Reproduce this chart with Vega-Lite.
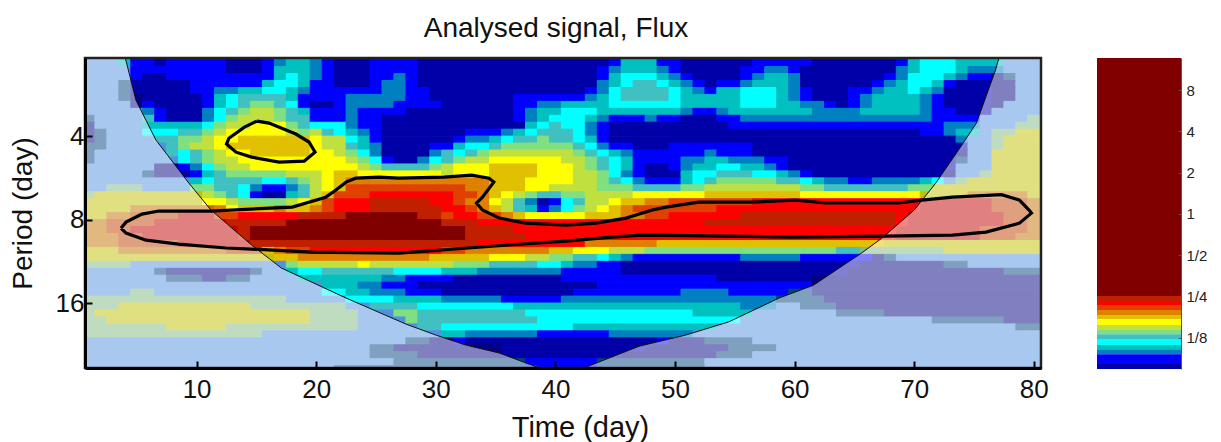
{"$schema":"https://vega.github.io/schema/vega-lite/v6.json","autosize":{"type":"pad"},"padding":{"left":9,"top":14,"right":0,"bottom":0},"background":"white","spacing":56,"bounds":"flush","config":{"view":{"stroke":null},"font":"Liberation Sans"},
"datasets":{"rows":[{"r":1,"p":2.0,"q":2.2449},{"r":2,"p":2.2449,"q":2.3784},{"r":3,"p":2.3784,"q":2.5198},{"r":4,"p":2.5198,"q":2.6697},{"r":5,"p":2.6697,"q":2.8284},{"r":6,"p":2.8284,"q":2.9966},{"r":7,"p":2.9966,"q":3.1748},{"r":8,"p":3.1748,"q":3.3636},{"r":9,"p":3.3636,"q":3.5636},{"r":10,"p":3.5636,"q":3.7755},{"r":11,"p":3.7755,"q":4},{"r":12,"p":4,"q":4.2379},{"r":13,"p":4.2379,"q":4.4898},{"r":14,"p":4.4898,"q":4.7568},{"r":15,"p":4.7568,"q":5.0397},{"r":16,"p":5.0397,"q":5.3394},{"r":17,"p":5.3394,"q":5.6569},{"r":18,"p":5.6569,"q":5.9932},{"r":19,"p":5.9932,"q":6.3496},{"r":20,"p":6.3496,"q":6.7272},{"r":21,"p":6.7272,"q":7.1272},{"r":22,"p":7.1272,"q":7.551},{"r":23,"p":7.551,"q":8},{"r":24,"p":8,"q":8.4757},{"r":25,"p":8.4757,"q":8.9797},{"r":26,"p":8.9797,"q":9.5137},{"r":27,"p":9.5137,"q":10.0794},{"r":28,"p":10.0794,"q":10.6787},{"r":29,"p":10.6787,"q":11.3137},{"r":30,"p":11.3137,"q":11.9864},{"r":31,"p":11.9864,"q":12.6992},{"r":32,"p":12.6992,"q":13.4543},{"r":33,"p":13.4543,"q":14.2544},{"r":34,"p":14.2544,"q":15.1021},{"r":35,"p":15.1021,"q":16},{"r":36,"p":16,"q":16.9514},{"r":37,"p":16.9514,"q":17.9594},{"r":38,"p":17.9594,"q":19.0273},{"r":39,"p":19.0273,"q":20.1587},{"r":40,"p":20.1587,"q":21.3574},{"r":41,"p":21.3574,"q":22.6274},{"r":42,"p":22.6274,"q":23.9729},{"r":43,"p":23.9729,"q":25.3984},{"r":44,"p":25.3984,"q":26.9087},{"r":45,"p":26.9087,"q":28.5}]},
"hconcat":[{"width":956,"height":310,"title":{"text":"Analysed signal, Flux","fontSize":28,"fontWeight":"normal","font":"Liberation Sans","color":"#111","dx":-7,"offset":14},
"layer":[
{"data":{"values":[
{"r":1,"a":0.5,"b":3.5,"c":"R"},{"r":1,"a":3.5,"b":4.5,"c":"d"},{"r":1,"a":4.5,"b":6.5,"c":"b"},{"r":1,"a":6.5,"b":7.5,"c":"a"},{"r":1,"a":7.5,"b":12.5,"c":"b"},{"r":1,"a":12.5,"b":15.5,"c":"a"},{"r":1,"a":15.5,"b":16.5,"c":"b"},{"r":1,"a":16.5,"b":17.5,"c":"c"},{"r":1,"a":17.5,"b":19.5,"c":"d"},{"r":1,"a":19.5,"b":20.5,"c":"c"},{"r":1,"a":20.5,"b":21.5,"c":"b"},{"r":1,"a":21.5,"b":24.5,"c":"a"},{"r":1,"a":24.5,"b":28.5,"c":"b"},{"r":1,"a":28.5,"b":44.5,"c":"a"},{"r":1,"a":44.5,"b":45.5,"c":"b"},{"r":1,"a":45.5,"b":48.5,"c":"d"},{"r":1,"a":48.5,"b":50.5,"c":"b"},{"r":1,"a":50.5,"b":56.5,"c":"a"},{"r":1,"a":56.5,"b":61.5,"c":"b"},{"r":1,"a":61.5,"b":68.5,"c":"a"},{"r":1,"a":68.5,"b":69.5,"c":"b"},{"r":1,"a":69.5,"b":70.5,"c":"d"},{"r":1,"a":70.5,"b":73.5,"c":"e"},{"r":1,"a":73.5,"b":77.5,"c":"d"},{"r":1,"a":77.5,"b":80.5,"c":"R"},
{"r":2,"a":0.5,"b":4.5,"c":"R"},{"r":2,"a":4.5,"b":12.5,"c":"b"},{"r":2,"a":12.5,"b":15.5,"c":"a"},{"r":2,"a":15.5,"b":16.5,"c":"b"},{"r":2,"a":16.5,"b":19.5,"c":"d"},{"r":2,"a":19.5,"b":20.5,"c":"c"},{"r":2,"a":20.5,"b":21.5,"c":"b"},{"r":2,"a":21.5,"b":24.5,"c":"a"},{"r":2,"a":24.5,"b":28.5,"c":"b"},{"r":2,"a":28.5,"b":43.5,"c":"a"},{"r":2,"a":43.5,"b":44.5,"c":"b"},{"r":2,"a":44.5,"b":45.5,"c":"c"},{"r":2,"a":45.5,"b":48.5,"c":"d"},{"r":2,"a":48.5,"b":49.5,"c":"c"},{"r":2,"a":49.5,"b":50.5,"c":"b"},{"r":2,"a":50.5,"b":55.5,"c":"a"},{"r":2,"a":55.5,"b":57.5,"c":"b"},{"r":2,"a":57.5,"b":59.5,"c":"c"},{"r":2,"a":59.5,"b":60.5,"c":"b"},{"r":2,"a":60.5,"b":68.5,"c":"a"},{"r":2,"a":68.5,"b":69.5,"c":"c"},{"r":2,"a":69.5,"b":70.5,"c":"d"},{"r":2,"a":70.5,"b":73.5,"c":"e"},{"r":2,"a":73.5,"b":74.5,"c":"d"},{"r":2,"a":74.5,"b":77.5,"c":"c"},{"r":2,"a":77.5,"b":80.5,"c":"R"},
{"r":3,"a":0.5,"b":4.5,"c":"R"},{"r":3,"a":4.5,"b":5.5,"c":"b"},{"r":3,"a":5.5,"b":7.5,"c":"a"},{"r":3,"a":7.5,"b":16.5,"c":"b"},{"r":3,"a":16.5,"b":17.5,"c":"d"},{"r":3,"a":17.5,"b":18.5,"c":"e"},{"r":3,"a":18.5,"b":19.5,"c":"d"},{"r":3,"a":19.5,"b":20.5,"c":"c"},{"r":3,"a":20.5,"b":21.5,"c":"b"},{"r":3,"a":21.5,"b":24.5,"c":"a"},{"r":3,"a":24.5,"b":26.5,"c":"b"},{"r":3,"a":26.5,"b":27.5,"c":"c"},{"r":3,"a":27.5,"b":28.5,"c":"b"},{"r":3,"a":28.5,"b":43.5,"c":"a"},{"r":3,"a":43.5,"b":44.5,"c":"b"},{"r":3,"a":44.5,"b":45.5,"c":"d"},{"r":3,"a":45.5,"b":48.5,"c":"e"},{"r":3,"a":48.5,"b":49.5,"c":"d"},{"r":3,"a":49.5,"b":50.5,"c":"c"},{"r":3,"a":50.5,"b":51.5,"c":"b"},{"r":3,"a":51.5,"b":55.5,"c":"a"},{"r":3,"a":55.5,"b":56.5,"c":"b"},{"r":3,"a":56.5,"b":57.5,"c":"c"},{"r":3,"a":57.5,"b":59.5,"c":"d"},{"r":3,"a":59.5,"b":60.5,"c":"c"},{"r":3,"a":60.5,"b":67.5,"c":"a"},{"r":3,"a":67.5,"b":68.5,"c":"b"},{"r":3,"a":68.5,"b":69.5,"c":"c"},{"r":3,"a":69.5,"b":72.5,"c":"e"},{"r":3,"a":72.5,"b":73.5,"c":"d"},{"r":3,"a":73.5,"b":74.5,"c":"c"},{"r":3,"a":74.5,"b":76.5,"c":"b"},{"r":3,"a":76.5,"b":77.5,"c":"P"},{"r":3,"a":77.5,"b":78.5,"c":"Q"},{"r":3,"a":78.5,"b":80.5,"c":"R"},
{"r":4,"a":0.5,"b":3.5,"c":"R"},{"r":4,"a":3.5,"b":4.5,"c":"Q"},{"r":4,"a":4.5,"b":9.5,"c":"a"},{"r":4,"a":9.5,"b":15.5,"c":"b"},{"r":4,"a":15.5,"b":16.5,"c":"d"},{"r":4,"a":16.5,"b":18.5,"c":"e"},{"r":4,"a":18.5,"b":19.5,"c":"d"},{"r":4,"a":19.5,"b":21.5,"c":"b"},{"r":4,"a":21.5,"b":24.5,"c":"a"},{"r":4,"a":24.5,"b":25.5,"c":"b"},{"r":4,"a":25.5,"b":27.5,"c":"c"},{"r":4,"a":27.5,"b":28.5,"c":"b"},{"r":4,"a":28.5,"b":43.5,"c":"a"},{"r":4,"a":43.5,"b":44.5,"c":"c"},{"r":4,"a":44.5,"b":45.5,"c":"d"},{"r":4,"a":45.5,"b":46.5,"c":"e"},{"r":4,"a":46.5,"b":48.5,"c":"f"},{"r":4,"a":48.5,"b":49.5,"c":"e"},{"r":4,"a":49.5,"b":50.5,"c":"d"},{"r":4,"a":50.5,"b":51.5,"c":"c"},{"r":4,"a":51.5,"b":52.5,"c":"b"},{"r":4,"a":52.5,"b":53.5,"c":"a"},{"r":4,"a":53.5,"b":55.5,"c":"b"},{"r":4,"a":55.5,"b":56.5,"c":"c"},{"r":4,"a":56.5,"b":59.5,"c":"d"},{"r":4,"a":59.5,"b":60.5,"c":"c"},{"r":4,"a":60.5,"b":66.5,"c":"a"},{"r":4,"a":66.5,"b":67.5,"c":"b"},{"r":4,"a":67.5,"b":68.5,"c":"c"},{"r":4,"a":68.5,"b":69.5,"c":"d"},{"r":4,"a":69.5,"b":71.5,"c":"e"},{"r":4,"a":71.5,"b":72.5,"c":"d"},{"r":4,"a":72.5,"b":73.5,"c":"b"},{"r":4,"a":73.5,"b":76.5,"c":"a"},{"r":4,"a":76.5,"b":78.5,"c":"P"},{"r":4,"a":78.5,"b":80.5,"c":"R"},
{"r":5,"a":0.5,"b":3.5,"c":"R"},{"r":5,"a":3.5,"b":4.5,"c":"Q"},{"r":5,"a":4.5,"b":9.5,"c":"a"},{"r":5,"a":9.5,"b":11.5,"c":"b"},{"r":5,"a":11.5,"b":13.5,"c":"c"},{"r":5,"a":13.5,"b":15.5,"c":"d"},{"r":5,"a":15.5,"b":17.5,"c":"e"},{"r":5,"a":17.5,"b":18.5,"c":"d"},{"r":5,"a":18.5,"b":19.5,"c":"c"},{"r":5,"a":19.5,"b":25.5,"c":"b"},{"r":5,"a":25.5,"b":27.5,"c":"c"},{"r":5,"a":27.5,"b":29.5,"c":"b"},{"r":5,"a":29.5,"b":42.5,"c":"a"},{"r":5,"a":42.5,"b":43.5,"c":"b"},{"r":5,"a":43.5,"b":44.5,"c":"c"},{"r":5,"a":44.5,"b":45.5,"c":"e"},{"r":5,"a":45.5,"b":49.5,"c":"f"},{"r":5,"a":49.5,"b":50.5,"c":"e"},{"r":5,"a":50.5,"b":51.5,"c":"d"},{"r":5,"a":51.5,"b":52.5,"c":"c"},{"r":5,"a":52.5,"b":53.5,"c":"b"},{"r":5,"a":53.5,"b":55.5,"c":"d"},{"r":5,"a":55.5,"b":58.5,"c":"e"},{"r":5,"a":58.5,"b":59.5,"c":"d"},{"r":5,"a":59.5,"b":60.5,"c":"c"},{"r":5,"a":60.5,"b":61.5,"c":"b"},{"r":5,"a":61.5,"b":64.5,"c":"a"},{"r":5,"a":64.5,"b":66.5,"c":"b"},{"r":5,"a":66.5,"b":67.5,"c":"c"},{"r":5,"a":67.5,"b":69.5,"c":"d"},{"r":5,"a":69.5,"b":70.5,"c":"e"},{"r":5,"a":70.5,"b":71.5,"c":"d"},{"r":5,"a":71.5,"b":72.5,"c":"c"},{"r":5,"a":72.5,"b":76.5,"c":"a"},{"r":5,"a":76.5,"b":78.5,"c":"P"},{"r":5,"a":78.5,"b":80.5,"c":"R"},
{"r":6,"a":0.5,"b":3.5,"c":"R"},{"r":6,"a":3.5,"b":4.5,"c":"Q"},{"r":6,"a":4.5,"b":5.5,"c":"P"},{"r":6,"a":5.5,"b":10.5,"c":"a"},{"r":6,"a":10.5,"b":11.5,"c":"b"},{"r":6,"a":11.5,"b":12.5,"c":"d"},{"r":6,"a":12.5,"b":13.5,"c":"e"},{"r":6,"a":13.5,"b":17.5,"c":"f"},{"r":6,"a":17.5,"b":18.5,"c":"d"},{"r":6,"a":18.5,"b":22.5,"c":"b"},{"r":6,"a":22.5,"b":27.5,"c":"c"},{"r":6,"a":27.5,"b":29.5,"c":"b"},{"r":6,"a":29.5,"b":36.5,"c":"a"},{"r":6,"a":36.5,"b":42.5,"c":"b"},{"r":6,"a":42.5,"b":43.5,"c":"c"},{"r":6,"a":43.5,"b":44.5,"c":"d"},{"r":6,"a":44.5,"b":45.5,"c":"e"},{"r":6,"a":45.5,"b":49.5,"c":"f"},{"r":6,"a":49.5,"b":50.5,"c":"e"},{"r":6,"a":50.5,"b":55.5,"c":"d"},{"r":6,"a":55.5,"b":58.5,"c":"e"},{"r":6,"a":58.5,"b":59.5,"c":"d"},{"r":6,"a":59.5,"b":60.5,"c":"c"},{"r":6,"a":60.5,"b":61.5,"c":"b"},{"r":6,"a":61.5,"b":64.5,"c":"a"},{"r":6,"a":64.5,"b":65.5,"c":"b"},{"r":6,"a":65.5,"b":66.5,"c":"c"},{"r":6,"a":66.5,"b":70.5,"c":"d"},{"r":6,"a":70.5,"b":71.5,"c":"c"},{"r":6,"a":71.5,"b":72.5,"c":"b"},{"r":6,"a":72.5,"b":76.5,"c":"a"},{"r":6,"a":76.5,"b":78.5,"c":"P"},{"r":6,"a":78.5,"b":80.5,"c":"R"},
{"r":7,"a":0.5,"b":4.5,"c":"R"},{"r":7,"a":4.5,"b":5.5,"c":"P"},{"r":7,"a":5.5,"b":6.5,"c":"b"},{"r":7,"a":6.5,"b":10.5,"c":"a"},{"r":7,"a":10.5,"b":11.5,"c":"b"},{"r":7,"a":11.5,"b":12.5,"c":"d"},{"r":7,"a":12.5,"b":13.5,"c":"e"},{"r":7,"a":13.5,"b":14.5,"c":"f"},{"r":7,"a":14.5,"b":16.5,"c":"g"},{"r":7,"a":16.5,"b":17.5,"c":"f"},{"r":7,"a":17.5,"b":18.5,"c":"e"},{"r":7,"a":18.5,"b":19.5,"c":"b"},{"r":7,"a":19.5,"b":21.5,"c":"a"},{"r":7,"a":21.5,"b":22.5,"c":"b"},{"r":7,"a":22.5,"b":26.5,"c":"c"},{"r":7,"a":26.5,"b":30.5,"c":"b"},{"r":7,"a":30.5,"b":36.5,"c":"a"},{"r":7,"a":36.5,"b":38.5,"c":"b"},{"r":7,"a":38.5,"b":40.5,"c":"c"},{"r":7,"a":40.5,"b":44.5,"c":"d"},{"r":7,"a":44.5,"b":50.5,"c":"e"},{"r":7,"a":50.5,"b":55.5,"c":"d"},{"r":7,"a":55.5,"b":58.5,"c":"e"},{"r":7,"a":58.5,"b":60.5,"c":"d"},{"r":7,"a":60.5,"b":62.5,"c":"c"},{"r":7,"a":62.5,"b":63.5,"c":"b"},{"r":7,"a":63.5,"b":64.5,"c":"a"},{"r":7,"a":64.5,"b":65.5,"c":"b"},{"r":7,"a":65.5,"b":66.5,"c":"c"},{"r":7,"a":66.5,"b":70.5,"c":"d"},{"r":7,"a":70.5,"b":71.5,"c":"c"},{"r":7,"a":71.5,"b":72.5,"c":"b"},{"r":7,"a":72.5,"b":76.5,"c":"a"},{"r":7,"a":76.5,"b":77.5,"c":"P"},{"r":7,"a":77.5,"b":80.5,"c":"R"},
{"r":8,"a":0.5,"b":5.5,"c":"R"},{"r":8,"a":5.5,"b":6.5,"c":"c"},{"r":8,"a":6.5,"b":7.5,"c":"b"},{"r":8,"a":7.5,"b":10.5,"c":"a"},{"r":8,"a":10.5,"b":11.5,"c":"c"},{"r":8,"a":11.5,"b":12.5,"c":"e"},{"r":8,"a":12.5,"b":13.5,"c":"f"},{"r":8,"a":13.5,"b":14.5,"c":"g"},{"r":8,"a":14.5,"b":16.5,"c":"h"},{"r":8,"a":16.5,"b":17.5,"c":"g"},{"r":8,"a":17.5,"b":18.5,"c":"f"},{"r":8,"a":18.5,"b":19.5,"c":"d"},{"r":8,"a":19.5,"b":22.5,"c":"b"},{"r":8,"a":22.5,"b":23.5,"c":"c"},{"r":8,"a":23.5,"b":27.5,"c":"b"},{"r":8,"a":27.5,"b":36.5,"c":"a"},{"r":8,"a":36.5,"b":37.5,"c":"b"},{"r":8,"a":37.5,"b":38.5,"c":"c"},{"r":8,"a":38.5,"b":40.5,"c":"d"},{"r":8,"a":40.5,"b":43.5,"c":"e"},{"r":8,"a":43.5,"b":50.5,"c":"d"},{"r":8,"a":50.5,"b":51.5,"c":"c"},{"r":8,"a":51.5,"b":53.5,"c":"b"},{"r":8,"a":53.5,"b":54.5,"c":"c"},{"r":8,"a":54.5,"b":61.5,"c":"d"},{"r":8,"a":61.5,"b":65.5,"c":"c"},{"r":8,"a":65.5,"b":70.5,"c":"d"},{"r":8,"a":70.5,"b":71.5,"c":"c"},{"r":8,"a":71.5,"b":73.5,"c":"b"},{"r":8,"a":73.5,"b":76.5,"c":"a"},{"r":8,"a":76.5,"b":80.5,"c":"R"},
{"r":9,"a":0.5,"b":1.5,"c":"Q"},{"r":9,"a":1.5,"b":5.5,"c":"R"},{"r":9,"a":5.5,"b":6.5,"c":"f"},{"r":9,"a":6.5,"b":7.5,"c":"b"},{"r":9,"a":7.5,"b":10.5,"c":"a"},{"r":9,"a":10.5,"b":11.5,"c":"c"},{"r":9,"a":11.5,"b":12.5,"c":"e"},{"r":9,"a":12.5,"b":13.5,"c":"g"},{"r":9,"a":13.5,"b":16.5,"c":"h"},{"r":9,"a":16.5,"b":17.5,"c":"g"},{"r":9,"a":17.5,"b":19.5,"c":"f"},{"r":9,"a":19.5,"b":22.5,"c":"b"},{"r":9,"a":22.5,"b":23.5,"c":"c"},{"r":9,"a":23.5,"b":25.5,"c":"b"},{"r":9,"a":25.5,"b":36.5,"c":"a"},{"r":9,"a":36.5,"b":37.5,"c":"b"},{"r":9,"a":37.5,"b":38.5,"c":"c"},{"r":9,"a":38.5,"b":39.5,"c":"d"},{"r":9,"a":39.5,"b":42.5,"c":"e"},{"r":9,"a":42.5,"b":43.5,"c":"d"},{"r":9,"a":43.5,"b":44.5,"c":"c"},{"r":9,"a":44.5,"b":47.5,"c":"b"},{"r":9,"a":47.5,"b":48.5,"c":"c"},{"r":9,"a":48.5,"b":50.5,"c":"b"},{"r":9,"a":50.5,"b":53.5,"c":"a"},{"r":9,"a":53.5,"b":55.5,"c":"b"},{"r":9,"a":55.5,"b":71.5,"c":"c"},{"r":9,"a":71.5,"b":75.5,"c":"b"},{"r":9,"a":75.5,"b":79.5,"c":"R"},{"r":9,"a":79.5,"b":80.5,"c":"S"},
{"r":10,"a":0.5,"b":1.5,"c":"P"},{"r":10,"a":1.5,"b":5.5,"c":"R"},{"r":10,"a":5.5,"b":10.5,"c":"d"},{"r":10,"a":10.5,"b":11.5,"c":"e"},{"r":10,"a":11.5,"b":12.5,"c":"g"},{"r":10,"a":12.5,"b":14.5,"c":"h"},{"r":10,"a":14.5,"b":17.5,"c":"i"},{"r":10,"a":17.5,"b":18.5,"c":"g"},{"r":10,"a":18.5,"b":19.5,"c":"f"},{"r":10,"a":19.5,"b":22.5,"c":"e"},{"r":10,"a":22.5,"b":23.5,"c":"c"},{"r":10,"a":23.5,"b":25.5,"c":"b"},{"r":10,"a":25.5,"b":37.5,"c":"a"},{"r":10,"a":37.5,"b":38.5,"c":"d"},{"r":10,"a":38.5,"b":39.5,"c":"e"},{"r":10,"a":39.5,"b":40.5,"c":"f"},{"r":10,"a":40.5,"b":42.5,"c":"e"},{"r":10,"a":42.5,"b":43.5,"c":"c"},{"r":10,"a":43.5,"b":44.5,"c":"b"},{"r":10,"a":44.5,"b":54.5,"c":"a"},{"r":10,"a":54.5,"b":72.5,"c":"b"},{"r":10,"a":72.5,"b":75.5,"c":"c"},{"r":10,"a":75.5,"b":78.5,"c":"R"},{"r":10,"a":78.5,"b":80.5,"c":"S"},
{"r":11,"a":0.5,"b":1.5,"c":"P"},{"r":11,"a":1.5,"b":2.5,"c":"Q"},{"r":11,"a":2.5,"b":5.5,"c":"R"},{"r":11,"a":5.5,"b":8.5,"c":"e"},{"r":11,"a":8.5,"b":10.5,"c":"f"},{"r":11,"a":10.5,"b":11.5,"c":"g"},{"r":11,"a":11.5,"b":12.5,"c":"h"},{"r":11,"a":12.5,"b":17.5,"c":"i"},{"r":11,"a":17.5,"b":18.5,"c":"h"},{"r":11,"a":18.5,"b":19.5,"c":"g"},{"r":11,"a":19.5,"b":20.5,"c":"h"},{"r":11,"a":20.5,"b":21.5,"c":"f"},{"r":11,"a":21.5,"b":22.5,"c":"e"},{"r":11,"a":22.5,"b":23.5,"c":"d"},{"r":11,"a":23.5,"b":24.5,"c":"c"},{"r":11,"a":24.5,"b":25.5,"c":"b"},{"r":11,"a":25.5,"b":32.5,"c":"a"},{"r":11,"a":32.5,"b":35.5,"c":"b"},{"r":11,"a":35.5,"b":36.5,"c":"c"},{"r":11,"a":36.5,"b":37.5,"c":"d"},{"r":11,"a":37.5,"b":38.5,"c":"e"},{"r":11,"a":38.5,"b":41.5,"c":"f"},{"r":11,"a":41.5,"b":42.5,"c":"e"},{"r":11,"a":42.5,"b":43.5,"c":"c"},{"r":11,"a":43.5,"b":44.5,"c":"b"},{"r":11,"a":44.5,"b":70.5,"c":"a"},{"r":11,"a":70.5,"b":72.5,"c":"b"},{"r":11,"a":72.5,"b":73.5,"c":"c"},{"r":11,"a":73.5,"b":75.5,"c":"d"},{"r":11,"a":75.5,"b":76.5,"c":"R"},{"r":11,"a":76.5,"b":78.5,"c":"S"},{"r":11,"a":78.5,"b":80.5,"c":"T"},
{"r":12,"a":0.5,"b":1.5,"c":"P"},{"r":12,"a":1.5,"b":2.5,"c":"Q"},{"r":12,"a":2.5,"b":6.5,"c":"R"},{"r":12,"a":6.5,"b":8.5,"c":"f"},{"r":12,"a":8.5,"b":10.5,"c":"g"},{"r":12,"a":10.5,"b":11.5,"c":"h"},{"r":12,"a":11.5,"b":13.5,"c":"i"},{"r":12,"a":13.5,"b":19.5,"c":"j"},{"r":12,"a":19.5,"b":20.5,"c":"i"},{"r":12,"a":20.5,"b":22.5,"c":"h"},{"r":12,"a":22.5,"b":23.5,"c":"e"},{"r":12,"a":23.5,"b":24.5,"c":"d"},{"r":12,"a":24.5,"b":25.5,"c":"b"},{"r":12,"a":25.5,"b":31.5,"c":"a"},{"r":12,"a":31.5,"b":32.5,"c":"b"},{"r":12,"a":32.5,"b":34.5,"c":"c"},{"r":12,"a":34.5,"b":35.5,"c":"d"},{"r":12,"a":35.5,"b":36.5,"c":"e"},{"r":12,"a":36.5,"b":38.5,"c":"f"},{"r":12,"a":38.5,"b":39.5,"c":"g"},{"r":12,"a":39.5,"b":41.5,"c":"f"},{"r":12,"a":41.5,"b":42.5,"c":"e"},{"r":12,"a":42.5,"b":43.5,"c":"d"},{"r":12,"a":43.5,"b":44.5,"c":"b"},{"r":12,"a":44.5,"b":73.5,"c":"a"},{"r":12,"a":73.5,"b":74.5,"c":"c"},{"r":12,"a":74.5,"b":76.5,"c":"R"},{"r":12,"a":76.5,"b":77.5,"c":"S"},{"r":12,"a":77.5,"b":80.5,"c":"T"},
{"r":13,"a":0.5,"b":2.5,"c":"Q"},{"r":13,"a":2.5,"b":7.5,"c":"R"},{"r":13,"a":7.5,"b":8.5,"c":"f"},{"r":13,"a":8.5,"b":9.5,"c":"g"},{"r":13,"a":9.5,"b":11.5,"c":"h"},{"r":13,"a":11.5,"b":12.5,"c":"i"},{"r":13,"a":12.5,"b":19.5,"c":"j"},{"r":13,"a":19.5,"b":20.5,"c":"i"},{"r":13,"a":20.5,"b":22.5,"c":"h"},{"r":13,"a":22.5,"b":23.5,"c":"f"},{"r":13,"a":23.5,"b":24.5,"c":"d"},{"r":13,"a":24.5,"b":25.5,"c":"c"},{"r":13,"a":25.5,"b":29.5,"c":"a"},{"r":13,"a":29.5,"b":31.5,"c":"b"},{"r":13,"a":31.5,"b":32.5,"c":"d"},{"r":13,"a":32.5,"b":34.5,"c":"e"},{"r":13,"a":34.5,"b":35.5,"c":"f"},{"r":13,"a":35.5,"b":41.5,"c":"g"},{"r":13,"a":41.5,"b":42.5,"c":"f"},{"r":13,"a":42.5,"b":43.5,"c":"e"},{"r":13,"a":43.5,"b":44.5,"c":"c"},{"r":13,"a":44.5,"b":46.5,"c":"b"},{"r":13,"a":46.5,"b":49.5,"c":"a"},{"r":13,"a":49.5,"b":56.5,"c":"b"},{"r":13,"a":56.5,"b":74.5,"c":"a"},{"r":13,"a":74.5,"b":76.5,"c":"R"},{"r":13,"a":76.5,"b":77.5,"c":"S"},{"r":13,"a":77.5,"b":80.5,"c":"T"},
{"r":14,"a":0.5,"b":1.5,"c":"Q"},{"r":14,"a":1.5,"b":7.5,"c":"R"},{"r":14,"a":7.5,"b":8.5,"c":"f"},{"r":14,"a":8.5,"b":9.5,"c":"e"},{"r":14,"a":9.5,"b":10.5,"c":"f"},{"r":14,"a":10.5,"b":11.5,"c":"g"},{"r":14,"a":11.5,"b":12.5,"c":"h"},{"r":14,"a":12.5,"b":14.5,"c":"i"},{"r":14,"a":14.5,"b":19.5,"c":"j"},{"r":14,"a":19.5,"b":21.5,"c":"i"},{"r":14,"a":21.5,"b":22.5,"c":"h"},{"r":14,"a":22.5,"b":23.5,"c":"g"},{"r":14,"a":23.5,"b":24.5,"c":"e"},{"r":14,"a":24.5,"b":25.5,"c":"c"},{"r":14,"a":25.5,"b":29.5,"c":"a"},{"r":14,"a":29.5,"b":30.5,"c":"c"},{"r":14,"a":30.5,"b":31.5,"c":"f"},{"r":14,"a":31.5,"b":32.5,"c":"e"},{"r":14,"a":32.5,"b":33.5,"c":"f"},{"r":14,"a":33.5,"b":34.5,"c":"g"},{"r":14,"a":34.5,"b":41.5,"c":"h"},{"r":14,"a":41.5,"b":42.5,"c":"g"},{"r":14,"a":42.5,"b":43.5,"c":"f"},{"r":14,"a":43.5,"b":44.5,"c":"e"},{"r":14,"a":44.5,"b":45.5,"c":"d"},{"r":14,"a":45.5,"b":46.5,"c":"c"},{"r":14,"a":46.5,"b":52.5,"c":"b"},{"r":14,"a":52.5,"b":53.5,"c":"c"},{"r":14,"a":53.5,"b":56.5,"c":"b"},{"r":14,"a":56.5,"b":73.5,"c":"a"},{"r":14,"a":73.5,"b":74.5,"c":"P"},{"r":14,"a":74.5,"b":76.5,"c":"R"},{"r":14,"a":76.5,"b":80.5,"c":"T"},
{"r":15,"a":0.5,"b":1.5,"c":"Q"},{"r":15,"a":1.5,"b":8.5,"c":"R"},{"r":15,"a":8.5,"b":9.5,"c":"e"},{"r":15,"a":9.5,"b":10.5,"c":"f"},{"r":15,"a":10.5,"b":11.5,"c":"g"},{"r":15,"a":11.5,"b":13.5,"c":"h"},{"r":15,"a":13.5,"b":22.5,"c":"i"},{"r":15,"a":22.5,"b":23.5,"c":"h"},{"r":15,"a":23.5,"b":24.5,"c":"g"},{"r":15,"a":24.5,"b":25.5,"c":"e"},{"r":15,"a":25.5,"b":26.5,"c":"b"},{"r":15,"a":26.5,"b":28.5,"c":"a"},{"r":15,"a":28.5,"b":29.5,"c":"c"},{"r":15,"a":29.5,"b":30.5,"c":"e"},{"r":15,"a":30.5,"b":31.5,"c":"f"},{"r":15,"a":31.5,"b":32.5,"c":"g"},{"r":15,"a":32.5,"b":34.5,"c":"h"},{"r":15,"a":34.5,"b":40.5,"c":"i"},{"r":15,"a":40.5,"b":42.5,"c":"h"},{"r":15,"a":42.5,"b":43.5,"c":"g"},{"r":15,"a":43.5,"b":44.5,"c":"f"},{"r":15,"a":44.5,"b":45.5,"c":"e"},{"r":15,"a":45.5,"b":46.5,"c":"d"},{"r":15,"a":46.5,"b":50.5,"c":"b"},{"r":15,"a":50.5,"b":52.5,"c":"c"},{"r":15,"a":52.5,"b":54.5,"c":"d"},{"r":15,"a":54.5,"b":57.5,"c":"c"},{"r":15,"a":57.5,"b":59.5,"c":"b"},{"r":15,"a":59.5,"b":73.5,"c":"a"},{"r":15,"a":73.5,"b":74.5,"c":"Q"},{"r":15,"a":74.5,"b":76.5,"c":"R"},{"r":15,"a":76.5,"b":80.5,"c":"T"},
{"r":16,"a":0.5,"b":6.5,"c":"R"},{"r":16,"a":6.5,"b":8.5,"c":"P"},{"r":16,"a":8.5,"b":9.5,"c":"b"},{"r":16,"a":9.5,"b":10.5,"c":"c"},{"r":16,"a":10.5,"b":11.5,"c":"e"},{"r":16,"a":11.5,"b":12.5,"c":"g"},{"r":16,"a":12.5,"b":14.5,"c":"h"},{"r":16,"a":14.5,"b":23.5,"c":"i"},{"r":16,"a":23.5,"b":24.5,"c":"h"},{"r":16,"a":24.5,"b":25.5,"c":"g"},{"r":16,"a":25.5,"b":29.5,"c":"f"},{"r":16,"a":29.5,"b":30.5,"c":"g"},{"r":16,"a":30.5,"b":31.5,"c":"h"},{"r":16,"a":31.5,"b":34.5,"c":"i"},{"r":16,"a":34.5,"b":38.5,"c":"j"},{"r":16,"a":38.5,"b":41.5,"c":"i"},{"r":16,"a":41.5,"b":42.5,"c":"h"},{"r":16,"a":42.5,"b":43.5,"c":"g"},{"r":16,"a":43.5,"b":44.5,"c":"f"},{"r":16,"a":44.5,"b":45.5,"c":"e"},{"r":16,"a":45.5,"b":46.5,"c":"d"},{"r":16,"a":46.5,"b":47.5,"c":"b"},{"r":16,"a":47.5,"b":49.5,"c":"a"},{"r":16,"a":49.5,"b":50.5,"c":"b"},{"r":16,"a":50.5,"b":51.5,"c":"c"},{"r":16,"a":51.5,"b":53.5,"c":"d"},{"r":16,"a":53.5,"b":55.5,"c":"e"},{"r":16,"a":55.5,"b":57.5,"c":"d"},{"r":16,"a":57.5,"b":58.5,"c":"c"},{"r":16,"a":58.5,"b":59.5,"c":"b"},{"r":16,"a":59.5,"b":73.5,"c":"a"},{"r":16,"a":73.5,"b":76.5,"c":"R"},{"r":16,"a":76.5,"b":80.5,"c":"T"},
{"r":17,"a":0.5,"b":5.5,"c":"R"},{"r":17,"a":5.5,"b":6.5,"c":"Q"},{"r":17,"a":6.5,"b":8.5,"c":"P"},{"r":17,"a":8.5,"b":9.5,"c":"a"},{"r":17,"a":9.5,"b":10.5,"c":"b"},{"r":17,"a":10.5,"b":11.5,"c":"d"},{"r":17,"a":11.5,"b":12.5,"c":"f"},{"r":17,"a":12.5,"b":17.5,"c":"g"},{"r":17,"a":17.5,"b":20.5,"c":"h"},{"r":17,"a":20.5,"b":21.5,"c":"i"},{"r":17,"a":21.5,"b":23.5,"c":"j"},{"r":17,"a":23.5,"b":30.5,"c":"i"},{"r":17,"a":30.5,"b":31.5,"c":"h"},{"r":17,"a":31.5,"b":34.5,"c":"i"},{"r":17,"a":34.5,"b":38.5,"c":"j"},{"r":17,"a":38.5,"b":41.5,"c":"i"},{"r":17,"a":41.5,"b":43.5,"c":"h"},{"r":17,"a":43.5,"b":44.5,"c":"g"},{"r":17,"a":44.5,"b":45.5,"c":"e"},{"r":17,"a":45.5,"b":46.5,"c":"c"},{"r":17,"a":46.5,"b":47.5,"c":"b"},{"r":17,"a":47.5,"b":50.5,"c":"a"},{"r":17,"a":50.5,"b":51.5,"c":"d"},{"r":17,"a":51.5,"b":53.5,"c":"e"},{"r":17,"a":53.5,"b":56.5,"c":"f"},{"r":17,"a":56.5,"b":58.5,"c":"e"},{"r":17,"a":58.5,"b":59.5,"c":"d"},{"r":17,"a":59.5,"b":60.5,"c":"c"},{"r":17,"a":60.5,"b":61.5,"c":"b"},{"r":17,"a":61.5,"b":72.5,"c":"a"},{"r":17,"a":72.5,"b":73.5,"c":"P"},{"r":17,"a":73.5,"b":75.5,"c":"R"},{"r":17,"a":75.5,"b":76.5,"c":"S"},{"r":17,"a":76.5,"b":80.5,"c":"T"},
{"r":18,"a":0.5,"b":9.5,"c":"R"},{"r":18,"a":9.5,"b":10.5,"c":"d"},{"r":18,"a":10.5,"b":11.5,"c":"e"},{"r":18,"a":11.5,"b":15.5,"c":"f"},{"r":18,"a":15.5,"b":17.5,"c":"e"},{"r":18,"a":17.5,"b":18.5,"c":"f"},{"r":18,"a":18.5,"b":19.5,"c":"g"},{"r":18,"a":19.5,"b":20.5,"c":"h"},{"r":18,"a":20.5,"b":21.5,"c":"i"},{"r":18,"a":21.5,"b":22.5,"c":"j"},{"r":18,"a":22.5,"b":34.5,"c":"k"},{"r":18,"a":34.5,"b":37.5,"c":"j"},{"r":18,"a":37.5,"b":41.5,"c":"i"},{"r":18,"a":41.5,"b":43.5,"c":"h"},{"r":18,"a":43.5,"b":44.5,"c":"g"},{"r":18,"a":44.5,"b":45.5,"c":"f"},{"r":18,"a":45.5,"b":46.5,"c":"e"},{"r":18,"a":46.5,"b":47.5,"c":"c"},{"r":18,"a":47.5,"b":50.5,"c":"b"},{"r":18,"a":50.5,"b":51.5,"c":"d"},{"r":18,"a":51.5,"b":52.5,"c":"e"},{"r":18,"a":52.5,"b":53.5,"c":"f"},{"r":18,"a":53.5,"b":58.5,"c":"g"},{"r":18,"a":58.5,"b":60.5,"c":"f"},{"r":18,"a":60.5,"b":61.5,"c":"e"},{"r":18,"a":61.5,"b":62.5,"c":"d"},{"r":18,"a":62.5,"b":64.5,"c":"c"},{"r":18,"a":64.5,"b":66.5,"c":"b"},{"r":18,"a":66.5,"b":70.5,"c":"c"},{"r":18,"a":70.5,"b":71.5,"c":"d"},{"r":18,"a":71.5,"b":72.5,"c":"e"},{"r":18,"a":72.5,"b":73.5,"c":"R"},{"r":18,"a":73.5,"b":74.5,"c":"S"},{"r":18,"a":74.5,"b":80.5,"c":"T"},
{"r":19,"a":0.5,"b":2.5,"c":"R"},{"r":19,"a":2.5,"b":5.5,"c":"S"},{"r":19,"a":5.5,"b":9.5,"c":"R"},{"r":19,"a":9.5,"b":11.5,"c":"g"},{"r":19,"a":11.5,"b":13.5,"c":"f"},{"r":19,"a":13.5,"b":14.5,"c":"e"},{"r":19,"a":14.5,"b":15.5,"c":"c"},{"r":19,"a":15.5,"b":17.5,"c":"b"},{"r":19,"a":17.5,"b":18.5,"c":"c"},{"r":19,"a":18.5,"b":19.5,"c":"f"},{"r":19,"a":19.5,"b":20.5,"c":"h"},{"r":19,"a":20.5,"b":21.5,"c":"i"},{"r":19,"a":21.5,"b":22.5,"c":"j"},{"r":19,"a":22.5,"b":32.5,"c":"l"},{"r":19,"a":32.5,"b":34.5,"c":"k"},{"r":19,"a":34.5,"b":37.5,"c":"j"},{"r":19,"a":37.5,"b":39.5,"c":"i"},{"r":19,"a":39.5,"b":43.5,"c":"h"},{"r":19,"a":43.5,"b":46.5,"c":"g"},{"r":19,"a":46.5,"b":50.5,"c":"f"},{"r":19,"a":50.5,"b":52.5,"c":"g"},{"r":19,"a":52.5,"b":60.5,"c":"h"},{"r":19,"a":60.5,"b":62.5,"c":"g"},{"r":19,"a":62.5,"b":69.5,"c":"f"},{"r":19,"a":69.5,"b":71.5,"c":"g"},{"r":19,"a":71.5,"b":80.5,"c":"T"},
{"r":20,"a":0.5,"b":1.5,"c":"S"},{"r":20,"a":1.5,"b":10.5,"c":"T"},{"r":20,"a":10.5,"b":11.5,"c":"h"},{"r":20,"a":11.5,"b":12.5,"c":"g"},{"r":20,"a":12.5,"b":13.5,"c":"f"},{"r":20,"a":13.5,"b":14.5,"c":"e"},{"r":20,"a":14.5,"b":15.5,"c":"b"},{"r":20,"a":15.5,"b":17.5,"c":"a"},{"r":20,"a":17.5,"b":18.5,"c":"d"},{"r":20,"a":18.5,"b":19.5,"c":"f"},{"r":20,"a":19.5,"b":20.5,"c":"h"},{"r":20,"a":20.5,"b":21.5,"c":"j"},{"r":20,"a":21.5,"b":24.5,"c":"l"},{"r":20,"a":24.5,"b":31.5,"c":"m"},{"r":20,"a":31.5,"b":33.5,"c":"l"},{"r":20,"a":33.5,"b":34.5,"c":"k"},{"r":20,"a":34.5,"b":35.5,"c":"j"},{"r":20,"a":35.5,"b":36.5,"c":"i"},{"r":20,"a":36.5,"b":37.5,"c":"h"},{"r":20,"a":37.5,"b":38.5,"c":"g"},{"r":20,"a":38.5,"b":40.5,"c":"f"},{"r":20,"a":40.5,"b":42.5,"c":"g"},{"r":20,"a":42.5,"b":46.5,"c":"h"},{"r":20,"a":46.5,"b":52.5,"c":"i"},{"r":20,"a":52.5,"b":60.5,"c":"j"},{"r":20,"a":60.5,"b":70.5,"c":"i"},{"r":20,"a":70.5,"b":74.5,"c":"T"},{"r":20,"a":74.5,"b":79.5,"c":"U"},{"r":20,"a":79.5,"b":80.5,"c":"T"},
{"r":21,"a":0.5,"b":10.5,"c":"T"},{"r":21,"a":10.5,"b":12.5,"c":"i"},{"r":21,"a":12.5,"b":13.5,"c":"h"},{"r":21,"a":13.5,"b":17.5,"c":"g"},{"r":21,"a":17.5,"b":18.5,"c":"h"},{"r":21,"a":18.5,"b":19.5,"c":"i"},{"r":21,"a":19.5,"b":20.5,"c":"j"},{"r":21,"a":20.5,"b":21.5,"c":"l"},{"r":21,"a":21.5,"b":24.5,"c":"m"},{"r":21,"a":24.5,"b":29.5,"c":"n"},{"r":21,"a":29.5,"b":31.5,"c":"m"},{"r":21,"a":31.5,"b":32.5,"c":"l"},{"r":21,"a":32.5,"b":34.5,"c":"k"},{"r":21,"a":34.5,"b":35.5,"c":"i"},{"r":21,"a":35.5,"b":36.5,"c":"h"},{"r":21,"a":36.5,"b":37.5,"c":"f"},{"r":21,"a":37.5,"b":38.5,"c":"c"},{"r":21,"a":38.5,"b":39.5,"c":"a"},{"r":21,"a":39.5,"b":40.5,"c":"b"},{"r":21,"a":40.5,"b":41.5,"c":"e"},{"r":21,"a":41.5,"b":42.5,"c":"f"},{"r":21,"a":42.5,"b":44.5,"c":"h"},{"r":21,"a":44.5,"b":45.5,"c":"i"},{"r":21,"a":45.5,"b":47.5,"c":"j"},{"r":21,"a":47.5,"b":49.5,"c":"k"},{"r":21,"a":49.5,"b":56.5,"c":"l"},{"r":21,"a":56.5,"b":70.5,"c":"m"},{"r":21,"a":70.5,"b":76.5,"c":"W"},{"r":21,"a":76.5,"b":79.5,"c":"V"},{"r":21,"a":79.5,"b":80.5,"c":"U"},
{"r":22,"a":0.5,"b":4.5,"c":"T"},{"r":22,"a":4.5,"b":11.5,"c":"U"},{"r":22,"a":11.5,"b":12.5,"c":"k"},{"r":22,"a":12.5,"b":13.5,"c":"i"},{"r":22,"a":13.5,"b":16.5,"c":"j"},{"r":22,"a":16.5,"b":17.5,"c":"k"},{"r":22,"a":17.5,"b":19.5,"c":"j"},{"r":22,"a":19.5,"b":20.5,"c":"k"},{"r":22,"a":20.5,"b":21.5,"c":"l"},{"r":22,"a":21.5,"b":24.5,"c":"m"},{"r":22,"a":24.5,"b":30.5,"c":"n"},{"r":22,"a":30.5,"b":32.5,"c":"m"},{"r":22,"a":32.5,"b":33.5,"c":"l"},{"r":22,"a":33.5,"b":34.5,"c":"k"},{"r":22,"a":34.5,"b":35.5,"c":"j"},{"r":22,"a":35.5,"b":36.5,"c":"h"},{"r":22,"a":36.5,"b":37.5,"c":"f"},{"r":22,"a":37.5,"b":38.5,"c":"d"},{"r":22,"a":38.5,"b":39.5,"c":"b"},{"r":22,"a":39.5,"b":40.5,"c":"c"},{"r":22,"a":40.5,"b":41.5,"c":"e"},{"r":22,"a":41.5,"b":42.5,"c":"g"},{"r":22,"a":42.5,"b":43.5,"c":"h"},{"r":22,"a":43.5,"b":44.5,"c":"i"},{"r":22,"a":44.5,"b":45.5,"c":"j"},{"r":22,"a":45.5,"b":46.5,"c":"k"},{"r":22,"a":46.5,"b":53.5,"c":"l"},{"r":22,"a":53.5,"b":70.5,"c":"m"},{"r":22,"a":70.5,"b":76.5,"c":"W"},{"r":22,"a":76.5,"b":79.5,"c":"V"},{"r":22,"a":79.5,"b":80.5,"c":"U"},
{"r":23,"a":0.5,"b":2.5,"c":"T"},{"r":23,"a":2.5,"b":4.5,"c":"U"},{"r":23,"a":4.5,"b":8.5,"c":"V"},{"r":23,"a":8.5,"b":11.5,"c":"W"},{"r":23,"a":11.5,"b":13.5,"c":"l"},{"r":23,"a":13.5,"b":18.5,"c":"m"},{"r":23,"a":18.5,"b":22.5,"c":"n"},{"r":23,"a":22.5,"b":28.5,"c":"o"},{"r":23,"a":28.5,"b":30.5,"c":"n"},{"r":23,"a":30.5,"b":31.5,"c":"l"},{"r":23,"a":31.5,"b":33.5,"c":"m"},{"r":23,"a":33.5,"b":35.5,"c":"l"},{"r":23,"a":35.5,"b":36.5,"c":"k"},{"r":23,"a":36.5,"b":37.5,"c":"j"},{"r":23,"a":37.5,"b":42.5,"c":"i"},{"r":23,"a":42.5,"b":45.5,"c":"j"},{"r":23,"a":45.5,"b":47.5,"c":"k"},{"r":23,"a":47.5,"b":49.5,"c":"l"},{"r":23,"a":49.5,"b":55.5,"c":"m"},{"r":23,"a":55.5,"b":68.5,"c":"n"},{"r":23,"a":68.5,"b":69.5,"c":"m"},{"r":23,"a":69.5,"b":77.5,"c":"W"},{"r":23,"a":77.5,"b":79.5,"c":"V"},{"r":23,"a":79.5,"b":80.5,"c":"U"},
{"r":24,"a":0.5,"b":2.5,"c":"U"},{"r":24,"a":2.5,"b":6.5,"c":"V"},{"r":24,"a":6.5,"b":12.5,"c":"W"},{"r":24,"a":12.5,"b":17.5,"c":"n"},{"r":24,"a":17.5,"b":30.5,"c":"o"},{"r":24,"a":30.5,"b":33.5,"c":"n"},{"r":24,"a":33.5,"b":52.5,"c":"m"},{"r":24,"a":52.5,"b":68.5,"c":"n"},{"r":24,"a":68.5,"b":69.5,"c":"m"},{"r":24,"a":69.5,"b":77.5,"c":"W"},{"r":24,"a":77.5,"b":79.5,"c":"V"},{"r":24,"a":79.5,"b":80.5,"c":"U"},
{"r":25,"a":0.5,"b":2.5,"c":"U"},{"r":25,"a":2.5,"b":4.5,"c":"V"},{"r":25,"a":4.5,"b":13.5,"c":"W"},{"r":25,"a":13.5,"b":14.5,"c":"n"},{"r":25,"a":14.5,"b":32.5,"c":"o"},{"r":25,"a":32.5,"b":36.5,"c":"n"},{"r":25,"a":36.5,"b":68.5,"c":"m"},{"r":25,"a":68.5,"b":75.5,"c":"W"},{"r":25,"a":75.5,"b":79.5,"c":"V"},{"r":25,"a":79.5,"b":80.5,"c":"U"},
{"r":26,"a":0.5,"b":3.5,"c":"U"},{"r":26,"a":3.5,"b":5.5,"c":"V"},{"r":26,"a":5.5,"b":13.5,"c":"W"},{"r":26,"a":13.5,"b":14.5,"c":"n"},{"r":26,"a":14.5,"b":32.5,"c":"o"},{"r":26,"a":32.5,"b":37.5,"c":"n"},{"r":26,"a":37.5,"b":68.5,"c":"m"},{"r":26,"a":68.5,"b":75.5,"c":"W"},{"r":26,"a":75.5,"b":78.5,"c":"V"},{"r":26,"a":78.5,"b":80.5,"c":"U"},
{"r":27,"a":0.5,"b":3.5,"c":"U"},{"r":27,"a":3.5,"b":8.5,"c":"V"},{"r":27,"a":8.5,"b":14.5,"c":"W"},{"r":27,"a":14.5,"b":33.5,"c":"n"},{"r":27,"a":33.5,"b":42.5,"c":"m"},{"r":27,"a":42.5,"b":48.5,"c":"k"},{"r":27,"a":48.5,"b":67.5,"c":"j"},{"r":27,"a":67.5,"b":80.5,"c":"T"},
{"r":28,"a":0.5,"b":3.5,"c":"T"},{"r":28,"a":3.5,"b":12.5,"c":"U"},{"r":28,"a":12.5,"b":15.5,"c":"V"},{"r":28,"a":15.5,"b":16.5,"c":"j"},{"r":28,"a":16.5,"b":17.5,"c":"k"},{"r":28,"a":17.5,"b":19.5,"c":"l"},{"r":28,"a":19.5,"b":30.5,"c":"m"},{"r":28,"a":30.5,"b":32.5,"c":"l"},{"r":28,"a":32.5,"b":39.5,"c":"k"},{"r":28,"a":39.5,"b":41.5,"c":"j"},{"r":28,"a":41.5,"b":44.5,"c":"i"},{"r":28,"a":44.5,"b":47.5,"c":"h"},{"r":28,"a":47.5,"b":63.5,"c":"g"},{"r":28,"a":63.5,"b":65.5,"c":"f"},{"r":28,"a":65.5,"b":72.5,"c":"S"},{"r":28,"a":72.5,"b":80.5,"c":"T"},
{"r":29,"a":0.5,"b":16.5,"c":"T"},{"r":29,"a":16.5,"b":18.5,"c":"j"},{"r":29,"a":18.5,"b":29.5,"c":"k"},{"r":29,"a":29.5,"b":34.5,"c":"j"},{"r":29,"a":34.5,"b":37.5,"c":"i"},{"r":29,"a":37.5,"b":39.5,"c":"h"},{"r":29,"a":39.5,"b":41.5,"c":"g"},{"r":29,"a":41.5,"b":43.5,"c":"f"},{"r":29,"a":43.5,"b":44.5,"c":"e"},{"r":29,"a":44.5,"b":45.5,"c":"d"},{"r":29,"a":45.5,"b":46.5,"c":"c"},{"r":29,"a":46.5,"b":55.5,"c":"b"},{"r":29,"a":55.5,"b":60.5,"c":"c"},{"r":29,"a":60.5,"b":66.5,"c":"b"},{"r":29,"a":66.5,"b":67.5,"c":"P"},{"r":29,"a":67.5,"b":68.5,"c":"Q"},{"r":29,"a":68.5,"b":80.5,"c":"R"},
{"r":30,"a":0.5,"b":4.5,"c":"S"},{"r":30,"a":4.5,"b":17.5,"c":"R"},{"r":30,"a":17.5,"b":18.5,"c":"g"},{"r":30,"a":18.5,"b":23.5,"c":"h"},{"r":30,"a":23.5,"b":24.5,"c":"i"},{"r":30,"a":24.5,"b":31.5,"c":"h"},{"r":30,"a":31.5,"b":34.5,"c":"g"},{"r":30,"a":34.5,"b":38.5,"c":"f"},{"r":30,"a":38.5,"b":40.5,"c":"e"},{"r":30,"a":40.5,"b":41.5,"c":"d"},{"r":30,"a":41.5,"b":43.5,"c":"c"},{"r":30,"a":43.5,"b":45.5,"c":"b"},{"r":30,"a":45.5,"b":65.5,"c":"a"},{"r":30,"a":65.5,"b":72.5,"c":"P"},{"r":30,"a":72.5,"b":74.5,"c":"Q"},{"r":30,"a":74.5,"b":80.5,"c":"R"},
{"r":31,"a":0.5,"b":6.5,"c":"R"},{"r":31,"a":6.5,"b":7.5,"c":"Q"},{"r":31,"a":7.5,"b":14.5,"c":"P"},{"r":31,"a":14.5,"b":15.5,"c":"Q"},{"r":31,"a":15.5,"b":17.5,"c":"R"},{"r":31,"a":17.5,"b":18.5,"c":"d"},{"r":31,"a":18.5,"b":20.5,"c":"e"},{"r":31,"a":20.5,"b":26.5,"c":"f"},{"r":31,"a":26.5,"b":30.5,"c":"e"},{"r":31,"a":30.5,"b":33.5,"c":"d"},{"r":31,"a":33.5,"b":40.5,"c":"c"},{"r":31,"a":40.5,"b":45.5,"c":"b"},{"r":31,"a":45.5,"b":64.5,"c":"a"},{"r":31,"a":64.5,"b":77.5,"c":"P"},{"r":31,"a":77.5,"b":80.5,"c":"Q"},
{"r":32,"a":0.5,"b":7.5,"c":"R"},{"r":32,"a":7.5,"b":10.5,"c":"Q"},{"r":32,"a":10.5,"b":12.5,"c":"P"},{"r":32,"a":12.5,"b":14.5,"c":"Q"},{"r":32,"a":14.5,"b":18.5,"c":"R"},{"r":32,"a":18.5,"b":25.5,"c":"d"},{"r":32,"a":25.5,"b":27.5,"c":"c"},{"r":32,"a":27.5,"b":31.5,"c":"b"},{"r":32,"a":31.5,"b":40.5,"c":"a"},{"r":32,"a":40.5,"b":53.5,"c":"b"},{"r":32,"a":53.5,"b":61.5,"c":"a"},{"r":32,"a":61.5,"b":80.5,"c":"P"},
{"r":33,"a":0.5,"b":20.5,"c":"R"},{"r":33,"a":20.5,"b":23.5,"c":"d"},{"r":33,"a":23.5,"b":25.5,"c":"c"},{"r":33,"a":25.5,"b":28.5,"c":"b"},{"r":33,"a":28.5,"b":43.5,"c":"a"},{"r":33,"a":43.5,"b":61.5,"c":"b"},{"r":33,"a":61.5,"b":80.5,"c":"P"},
{"r":34,"a":0.5,"b":4.5,"c":"R"},{"r":34,"a":4.5,"b":6.5,"c":"S"},{"r":34,"a":6.5,"b":20.5,"c":"R"},{"r":34,"a":20.5,"b":22.5,"c":"e"},{"r":34,"a":22.5,"b":24.5,"c":"d"},{"r":34,"a":24.5,"b":27.5,"c":"c"},{"r":34,"a":27.5,"b":30.5,"c":"b"},{"r":34,"a":30.5,"b":41.5,"c":"a"},{"r":34,"a":41.5,"b":50.5,"c":"b"},{"r":34,"a":50.5,"b":54.5,"c":"c"},{"r":34,"a":54.5,"b":59.5,"c":"b"},{"r":34,"a":59.5,"b":61.5,"c":"Q"},{"r":34,"a":61.5,"b":80.5,"c":"P"},
{"r":35,"a":0.5,"b":17.5,"c":"S"},{"r":35,"a":17.5,"b":22.5,"c":"R"},{"r":35,"a":22.5,"b":26.5,"c":"e"},{"r":35,"a":26.5,"b":30.5,"c":"d"},{"r":35,"a":30.5,"b":35.5,"c":"c"},{"r":35,"a":35.5,"b":40.5,"c":"b"},{"r":35,"a":40.5,"b":58.5,"c":"c"},{"r":35,"a":58.5,"b":62.5,"c":"Q"},{"r":35,"a":62.5,"b":80.5,"c":"P"},
{"r":36,"a":0.5,"b":3.5,"c":"S"},{"r":36,"a":3.5,"b":14.5,"c":"T"},{"r":36,"a":14.5,"b":22.5,"c":"S"},{"r":36,"a":22.5,"b":24.5,"c":"R"},{"r":36,"a":24.5,"b":28.5,"c":"f"},{"r":36,"a":28.5,"b":36.5,"c":"e"},{"r":36,"a":36.5,"b":55.5,"c":"d"},{"r":36,"a":55.5,"b":58.5,"c":"c"},{"r":36,"a":58.5,"b":60.5,"c":"R"},{"r":36,"a":60.5,"b":63.5,"c":"Q"},{"r":36,"a":63.5,"b":80.5,"c":"P"},
{"r":37,"a":0.5,"b":1.5,"c":"S"},{"r":37,"a":1.5,"b":19.5,"c":"T"},{"r":37,"a":19.5,"b":23.5,"c":"S"},{"r":37,"a":23.5,"b":26.5,"c":"R"},{"r":37,"a":26.5,"b":28.5,"c":"g"},{"r":37,"a":28.5,"b":37.5,"c":"f"},{"r":37,"a":37.5,"b":51.5,"c":"e"},{"r":37,"a":51.5,"b":56.5,"c":"d"},{"r":37,"a":56.5,"b":63.5,"c":"R"},{"r":37,"a":63.5,"b":67.5,"c":"Q"},{"r":37,"a":67.5,"b":80.5,"c":"P"},
{"r":38,"a":0.5,"b":2.5,"c":"S"},{"r":38,"a":2.5,"b":19.5,"c":"T"},{"r":38,"a":19.5,"b":23.5,"c":"S"},{"r":38,"a":23.5,"b":27.5,"c":"R"},{"r":38,"a":27.5,"b":28.5,"c":"g"},{"r":38,"a":28.5,"b":38.5,"c":"f"},{"r":38,"a":38.5,"b":55.5,"c":"e"},{"r":38,"a":55.5,"b":71.5,"c":"R"},{"r":38,"a":71.5,"b":77.5,"c":"Q"},{"r":38,"a":77.5,"b":80.5,"c":"P"},
{"r":39,"a":0.5,"b":7.5,"c":"S"},{"r":39,"a":7.5,"b":12.5,"c":"T"},{"r":39,"a":12.5,"b":23.5,"c":"S"},{"r":39,"a":23.5,"b":28.5,"c":"R"},{"r":39,"a":28.5,"b":30.5,"c":"f"},{"r":39,"a":30.5,"b":41.5,"c":"e"},{"r":39,"a":41.5,"b":53.5,"c":"d"},{"r":39,"a":53.5,"b":78.5,"c":"R"},{"r":39,"a":78.5,"b":80.5,"c":"Q"},
{"r":40,"a":0.5,"b":15.5,"c":"S"},{"r":40,"a":15.5,"b":30.5,"c":"R"},{"r":40,"a":30.5,"b":32.5,"c":"d"},{"r":40,"a":32.5,"b":38.5,"c":"c"},{"r":40,"a":38.5,"b":44.5,"c":"b"},{"r":40,"a":44.5,"b":51.5,"c":"c"},{"r":40,"a":51.5,"b":80.5,"c":"R"},
{"r":41,"a":0.5,"b":27.5,"c":"R"},{"r":41,"a":27.5,"b":29.5,"c":"Q"},{"r":41,"a":29.5,"b":31.5,"c":"P"},{"r":41,"a":31.5,"b":32.5,"c":"b"},{"r":41,"a":32.5,"b":48.5,"c":"a"},{"r":41,"a":48.5,"b":49.5,"c":"b"},{"r":41,"a":49.5,"b":52.5,"c":"P"},{"r":41,"a":52.5,"b":56.5,"c":"Q"},{"r":41,"a":56.5,"b":80.5,"c":"R"},
{"r":42,"a":0.5,"b":24.5,"c":"R"},{"r":42,"a":24.5,"b":26.5,"c":"Q"},{"r":42,"a":26.5,"b":35.5,"c":"P"},{"r":42,"a":35.5,"b":47.5,"c":"a"},{"r":42,"a":47.5,"b":54.5,"c":"P"},{"r":42,"a":54.5,"b":58.5,"c":"Q"},{"r":42,"a":58.5,"b":80.5,"c":"R"},
{"r":43,"a":0.5,"b":24.5,"c":"R"},{"r":43,"a":24.5,"b":28.5,"c":"Q"},{"r":43,"a":28.5,"b":35.5,"c":"P"},{"r":43,"a":35.5,"b":45.5,"c":"a"},{"r":43,"a":45.5,"b":53.5,"c":"P"},{"r":43,"a":53.5,"b":56.5,"c":"Q"},{"r":43,"a":56.5,"b":80.5,"c":"R"},
{"r":44,"a":0.5,"b":26.5,"c":"R"},{"r":44,"a":26.5,"b":37.5,"c":"Q"},{"r":44,"a":37.5,"b":43.5,"c":"b"},{"r":44,"a":43.5,"b":52.5,"c":"Q"},{"r":44,"a":52.5,"b":80.5,"c":"R"},
{"r":45,"a":0.5,"b":21.5,"c":"R"},{"r":45,"a":21.5,"b":38.5,"c":"Q"},{"r":45,"a":38.5,"b":43.5,"c":"b"},{"r":45,"a":43.5,"b":52.5,"c":"Q"},{"r":45,"a":52.5,"b":80.5,"c":"R"}
]},
"transform":[{"lookup":"r","from":{"data":{"name":"rows"},"key":"r","fields":["p","q"]}}],
"mark":{"type":"rect","clip":true,"strokeWidth":1},
"encoding":{
"x":{"field":"a","type":"quantitative","scale":{"domain":[0.67,80.6],"nice":false,"zero":false},"axis":{"zindex":1,"values":[10,20,30,40,50,60,70,80],"title":"Time (day)","titleX":495,"titleFontSize":29,"titleFontWeight":"normal","titleColor":"#111","titlePadding":11,"labelFontSize":26,"labelColor":"#111","labelPadding":15,"tickSize":-7,"tickWidth":2,"tickColor":"#000","domainColor":"#000","domainWidth":3,"grid":false,"labelFlush":false}},
"x2":{"field":"b"},
"y":{"field":"p","type":"quantitative","scale":{"type":"log","base":2,"domain":[27.44,2.09],"nice":false},"axis":{"zindex":1,"values":[4,8,16],"title":"Period (day)","titleFontSize":28,"titleFontWeight":"normal","titleColor":"#111","titlePadding":18,"labelFontSize":26,"labelColor":"#111","labelPadding":8,"tickSize":-7,"tickWidth":2,"tickColor":"#000","domainColor":"#000","domainWidth":3,"grid":false,"format":"d"}},
"y2":{"field":"q"},
"fill":{"field":"c","type":"nominal","legend":null,"scale":{"domain":["a","b","c","d","e","f","g","h","i","j","k","l","m","n","o","P","Q","R","S","T","U","V","W"],"range":["#0000a8","#0000ff","#0080c0","#00c0c0","#00ffff","#40c0c0","#80e080","#c0e040","#ffff00","#e0c000","#e08000","#e04000","#ff0000","#c02000","#800000","#010181","#014181","#5191e1","#81b981","#c1c101","#c17101","#c14101","#c10101"]}},
"stroke":{"field":"c","type":"nominal","legend":null,"scale":{"domain":["a","b","c","d","e","f","g","h","i","j","k","l","m","n","o","P","Q","R","S","T","U","V","W"],"range":["#0000a8","#0000ff","#0080c0","#00c0c0","#00ffff","#40c0c0","#80e080","#c0e040","#ffff00","#e0c000","#e08000","#e04000","#ff0000","#c02000","#800000","#010181","#014181","#5191e1","#81b981","#c1c101","#c17101","#c14101","#c10101"]}}
}},
{"data":{"values":[
{"s":"L","o":0,"d":0.67,"p":2.0,"e":27.44},{"s":"L","o":1,"d":3.93,"p":2.0,"e":27.44},{"s":"L","o":2,"d":4.93,"p":2.97,"e":27.44},{"s":"L","o":3,"d":6.6,"p":4.13,"e":27.44},{"s":"L","o":4,"d":9.36,"p":5.91,"e":27.44},{"s":"L","o":5,"d":11.2,"p":7.39,"e":27.44},{"s":"L","o":6,"d":14.6,"p":9.88,"e":27.44},{"s":"L","o":7,"d":17.1,"p":11.97,"e":27.44},{"s":"L","o":8,"d":22.5,"p":15.35,"e":27.44},{"s":"L","o":9,"d":27.5,"p":19.05,"e":27.44},{"s":"L","o":10,"d":30.0,"p":20.87,"e":27.44},{"s":"L","o":11,"d":32.5,"p":22.68,"e":27.44},{"s":"L","o":12,"d":35.3,"p":24.23,"e":27.44},{"s":"L","o":13,"d":38.0,"p":26.77,"e":27.44},{"s":"L","o":14,"d":38.6,"p":27.44,"e":27.44},
{"s":"R","o":1,"d":42.4,"p":27.44,"e":27.44},{"s":"R","o":2,"d":43.0,"p":26.77,"e":27.44},{"s":"R","o":3,"d":47.0,"p":22.9,"e":27.44},{"s":"R","o":4,"d":50.9,"p":20.87,"e":27.44},{"s":"R","o":5,"d":54.5,"p":18.7,"e":27.44},{"s":"R","o":6,"d":58.7,"p":15.35,"e":27.44},{"s":"R","o":7,"d":61.6,"p":13.78,"e":27.44},{"s":"R","o":8,"d":65.6,"p":10.56,"e":27.44},{"s":"R","o":9,"d":67.3,"p":9.33,"e":27.44},{"s":"R","o":10,"d":70.0,"p":7.39,"e":27.44},{"s":"R","o":11,"d":71.8,"p":5.91,"e":27.44},{"s":"R","o":12,"d":73.7,"p":4.49,"e":27.44},{"s":"R","o":13,"d":75.2,"p":3.59,"e":27.44},{"s":"R","o":14,"d":76.8,"p":2.31,"e":27.44},{"s":"R","o":15,"d":77.2,"p":2.0,"e":27.44},{"s":"R","o":16,"d":80.6,"p":2.0,"e":27.44}
]},
"layer":[
{"mark":{"type":"area","orient":"vertical","fill":"white","fillOpacity":0.5,"stroke":null,"clip":true},"encoding":{"x":{"field":"d","type":"quantitative"},"y":{"field":"p","type":"quantitative"},"y2":{"field":"e"},"detail":{"field":"s"}}},
{"mark":{"type":"line","color":"#111","strokeWidth":1,"clip":true},"encoding":{"x":{"field":"d","type":"quantitative"},"y":{"field":"p","type":"quantitative"},"detail":{"field":"s"},"order":{"field":"o"}}}
]},
{"data":{"values":[
{"s":1,"o":1,"d":3.68,"p":8.59},{"s":1,"o":2,"d":4.1,"p":8.17},{"s":1,"o":3,"d":5.43,"p":7.64},{"s":1,"o":4,"d":6.85,"p":7.45},{"s":1,"o":5,"d":11.2,"p":7.45},{"s":1,"o":6,"d":18.0,"p":7.21},{"s":1,"o":7,"d":20.8,"p":6.64},{"s":1,"o":8,"d":21.65,"p":6.26},{"s":1,"o":9,"d":22.5,"p":5.86},{"s":1,"o":10,"d":23.3,"p":5.67},{"s":1,"o":11,"d":25.25,"p":5.62},{"s":1,"o":12,"d":26.9,"p":5.67},{"s":1,"o":13,"d":30.7,"p":5.62},{"s":1,"o":14,"d":33.0,"p":5.53},{"s":1,"o":15,"d":34.45,"p":5.67},{"s":1,"o":16,"d":34.85,"p":5.86},{"s":1,"o":17,"d":33.9,"p":6.64},{"s":1,"o":18,"d":33.4,"p":6.97},{"s":1,"o":19,"d":33.9,"p":7.39},{"s":1,"o":20,"d":35.3,"p":7.9},{"s":1,"o":21,"d":37.5,"p":8.24},{"s":1,"o":22,"d":40.9,"p":8.37},{"s":1,"o":23,"d":43.4,"p":8.24},{"s":1,"o":24,"d":45.9,"p":7.9},{"s":1,"o":25,"d":48.1,"p":7.39},{"s":1,"o":26,"d":49.25,"p":7.21},{"s":1,"o":27,"d":52.0,"p":6.92},{"s":1,"o":28,"d":54.5,"p":6.92},{"s":1,"o":29,"d":56.4,"p":6.92},{"s":1,"o":30,"d":60.1,"p":6.8},{"s":1,"o":31,"d":62.6,"p":6.97},{"s":1,"o":32,"d":68.7,"p":6.97},{"s":1,"o":33,"d":70.65,"p":6.8},{"s":1,"o":34,"d":73.2,"p":6.64},{"s":1,"o":35,"d":77.3,"p":6.5},{"s":1,"o":36,"d":78.8,"p":6.8},{"s":1,"o":37,"d":79.6,"p":7.39},{"s":1,"o":38,"d":79.8,"p":7.58},{"s":1,"o":39,"d":78.8,"p":8.24},{"s":1,"o":40,"d":76.0,"p":8.88},{"s":1,"o":41,"d":73.2,"p":9.1},{"s":1,"o":42,"d":67.6,"p":9.18},{"s":1,"o":43,"d":59.8,"p":9.25},{"s":1,"o":44,"d":54.5,"p":9.18},{"s":1,"o":45,"d":47.2,"p":9.1},{"s":1,"o":46,"d":44.7,"p":9.25},{"s":1,"o":47,"d":40.9,"p":9.56},{"s":1,"o":48,"d":36.1,"p":9.88},{"s":1,"o":49,"d":30.5,"p":10.3},{"s":1,"o":50,"d":26.9,"p":10.56},{"s":1,"o":51,"d":19.65,"p":10.48},{"s":1,"o":52,"d":14.6,"p":10.22},{"s":1,"o":53,"d":12.45,"p":10.13},{"s":1,"o":54,"d":8.5,"p":9.8},{"s":1,"o":55,"d":5.77,"p":9.49},{"s":1,"o":56,"d":4.1,"p":8.95},{"s":1,"o":57,"d":3.68,"p":8.59},
{"s":2,"o":1,"d":15.05,"p":3.53},{"s":2,"o":2,"d":16.05,"p":3.59},{"s":2,"o":3,"d":18.3,"p":3.93},{"s":2,"o":4,"d":19.4,"p":4.2},{"s":2,"o":5,"d":19.9,"p":4.57},{"s":2,"o":6,"d":19.0,"p":4.92},{"s":2,"o":7,"d":16.9,"p":4.96},{"s":2,"o":8,"d":14.6,"p":4.76},{"s":2,"o":9,"d":13.3,"p":4.57},{"s":2,"o":10,"d":12.5,"p":4.27},{"s":2,"o":11,"d":12.7,"p":4.07},{"s":2,"o":12,"d":14.0,"p":3.71},{"s":2,"o":13,"d":15.05,"p":3.53}
]},
"mark":{"type":"line","color":"#000","strokeWidth":3.2,"clip":true},"encoding":{"x":{"field":"d","type":"quantitative"},"y":{"field":"p","type":"quantitative"},"detail":{"field":"s"},"order":{"field":"o"}}},
{"data":{"values":[{"t":"top"}]},"mark":{"type":"rect","fillOpacity":0,"stroke":"#222","strokeWidth":2.5},"encoding":{"x":{"datum":0.67,"type":"quantitative"},"x2":{"datum":80.6},"y":{"datum":2.09,"type":"quantitative"},"y2":{"datum":27.44}}}
]},
{"width":84,"height":311,"data":{"values":[
{"u":13.71,"v":0.2526,"c":"o"},{"u":0.2526,"v":0.2319,"c":"n"},{"u":0.2319,"v":0.217,"c":"m"},{"u":0.217,"v":0.1997,"c":"l"},{"u":0.1997,"v":0.1838,"c":"k"},{"u":0.1838,"v":0.1708,"c":"j"},{"u":0.1708,"v":0.1553,"c":"i"},{"u":0.1553,"v":0.1426,"c":"h"},{"u":0.1426,"v":0.1328,"c":"g"},{"u":0.1328,"v":0.1227,"c":"f"},{"u":0.1227,"v":0.111,"c":"e"},{"u":0.111,"v":0.1031,"c":"d"},{"u":0.1031,"v":0.0948,"c":"c"},{"u":0.0948,"v":0.0807,"c":"b"},{"u":0.0807,"v":0.0741,"c":"a"}
]},
"layer":[{"mark":{"type":"rect","stroke":null},"encoding":{
"x":{"datum":0,"type":"quantitative","scale":{"domain":[0,1]},"axis":null},"x2":{"datum":1},
"y":{"field":"u","type":"quantitative","scale":{"type":"log","base":2,"domain":[0.0741,13.71],"nice":false},"axis":{"zindex":1,"orient":"right","values":[0.125,0.25,0.5,1,2,4,8],"title":null,"labelExpr":"datum.value>=1?format(datum.value,'d'):'1/'+format(1/datum.value,'d')","labelFontSize":15,"labelColor":"#222","labelPadding":8,"tickSize":-3,"tickColor":"#555","domainColor":"#555","domainWidth":1,"grid":false}},
"y2":{"field":"v"},
"fill":{"field":"c","type":"nominal","legend":null,"scale":{"domain":["a","b","c","d","e","f","g","h","i","j","k","l","m","n","o"],"range":["#0000a8","#0000ff","#0080c0","#00c0c0","#00ffff","#40c0c0","#80e080","#c0e040","#ffff00","#e0c000","#e08000","#e04000","#ff0000","#c02000","#800000"]}}
}}]}
],"resolve":{"scale":{"fill":"independent","stroke":"independent"}}}
